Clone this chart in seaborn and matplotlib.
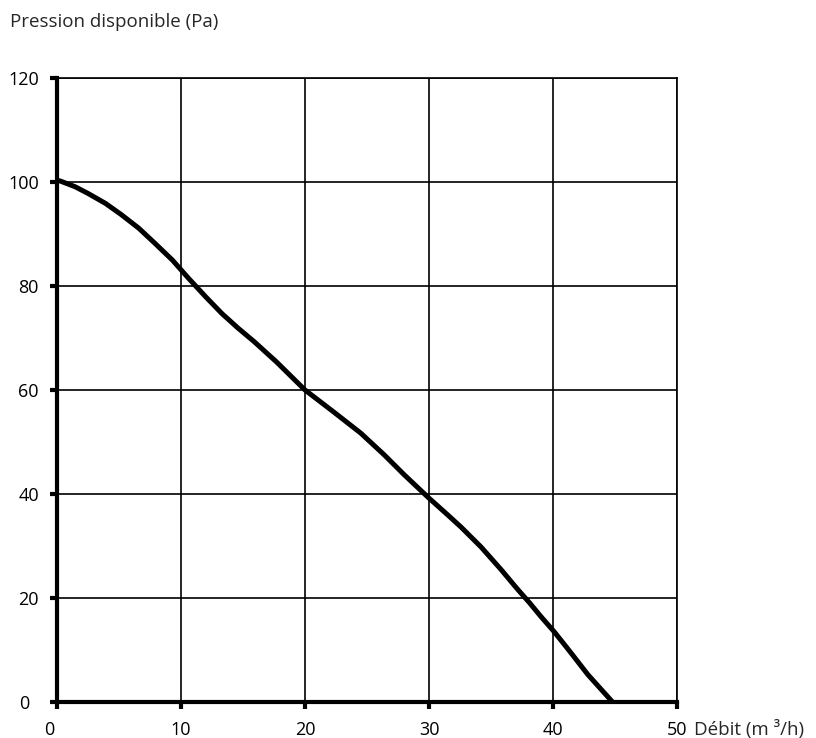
import matplotlib.pyplot as plt
import matplotlib.transforms as mtransforms
import seaborn as sns
from matplotlib.ticker import MultipleLocator

# Courbe débit / pression
debit = [0, 0.25, 1.45, 2.5, 3.9, 5.2, 6.6, 7.9, 9.3, 10.6, 12.0, 13.3, 14.6, 15.9,
         17.7, 20.0, 22.3, 24.5, 26.4, 28.0, 30.0, 31.5, 32.6, 34.2, 35.8, 37.1,
         38.1, 39.0, 40.1, 41.4, 42.8, 44.8]
pression = [100.3, 100.2, 99.1, 97.8, 95.9, 93.7, 91.1, 88.2, 85.0, 81.5, 77.9, 74.7,
            71.9, 69.3, 65.4, 60.0, 55.8, 51.7, 47.5, 43.7, 39.2, 36.0, 33.6, 29.8,
            25.5, 21.8, 19.1, 16.5, 13.5, 9.6, 5.3, 0]

x_ticks = [0, 10, 20, 30, 40, 50]
y_ticks = [0, 20, 40, 60, 80, 100, 120]

sns.set_style("white")
plt.rcParams['font.family'] = ['Open Sans', 'DejaVu Sans']

fig = plt.figure(figsize=(8.16, 7.38), dpi=100)
ax = fig.add_axes([57 / 816, 36 / 738, 620 / 816, 624 / 738])

sns.lineplot(x=debit, y=pression, ax=ax, color='black', linewidth=3.6,
             sort=False, solid_joinstyle='round', solid_capstyle='butt')

ax.set_xlim(0, 50)
ax.set_ylim(0, 120)
ax.set_xticks(x_ticks)
ax.set_yticks(y_ticks)
ax.xaxis.set_minor_locator(MultipleLocator(2))
ax.yaxis.set_minor_locator(MultipleLocator(10))
ax.grid(True, which='major', color='black', linewidth=1.2)
ax.tick_params(axis='both', which='both', direction='out', color='black',
               width=3, length=5, labelsize=13, labelcolor='black')
ax.tick_params(axis='x', pad=9)
ax.tick_params(axis='y', pad=8)
ax.tick_params(bottom=True, left=True)

# the "0" labels sit a little further left in the original
lab = ax.xaxis.get_major_ticks()[0].label1
lab.set_transform(lab.get_transform() + mtransforms.ScaledTranslation(-0.08, 0, fig.dpi_scale_trans))
lab = ax.yaxis.get_major_ticks()[0].label1
lab.set_transform(lab.get_transform() + mtransforms.ScaledTranslation(-0.1, 0, fig.dpi_scale_trans))

for side in ['left', 'bottom']:
    ax.spines[side].set_linewidth(3)
    ax.spines[side].set_color('black')
for side in ['top', 'right']:
    ax.spines[side].set_linewidth(1.2)
    ax.spines[side].set_color('black')

ax.set_xlabel('')
ax.set_ylabel('')

fig.text(10 / 816, 1 - 22 / 738, 'Pression disponible (Pa)', va='center', fontsize=13.5)
fig.text(694 / 816, 1 - 729 / 738, 'Débit (m \u00b3/h)', va='center', fontsize=13.5)

plt.savefig('out.png', dpi=100)
